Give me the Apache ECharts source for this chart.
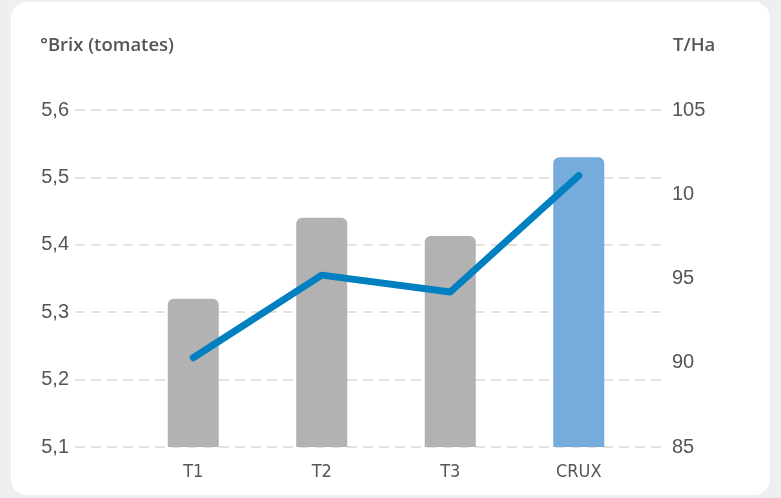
<!DOCTYPE html>
<html>
<head>
<meta charset="utf-8">
<script src="https://cdn.jsdelivr.net/npm/echarts@6/dist/echarts.min.js"></script>
<style>
  html, body { margin: 0; padding: 0; background: #eeeff1; }
  #card { position: absolute; left: 11px; top: 2px; width: 759px; height: 493px; background: #fff; border-radius: 16px; }
  #chart { position: absolute; left: 0; top: 0; width: 781px; height: 498px; }
</style>
</head>
<body>
<div id="card"></div>
<div id="chart"></div>
<script>
  // datos
  var categories = ['T1', 'T2', 'T3', 'CRUX'];
  var brix = [5.32, 5.44, 5.413, 5.53];
  var tonHa = [90.3, 95.2, 94.2, 101.1];
  var brixTicks = ['5,1', '5,2', '5,3', '5,4', '5,5', '5,6'];
  var tonTicks = ['85', '90', '95', '10', '105'];

  var textColor = '#555';
  var gridTop = 110, gridBottom = 51;
  var titleStyle = { fontSize: 18.5, fontWeight: 600, color: textColor, fontFamily: 'Open Sans, sans-serif' };

  var chart = echarts.init(document.getElementById('chart'));

  var option = {
    backgroundColor: 'transparent',
    textStyle: { fontFamily: 'Roboto, sans-serif' },
    title: [
      { text: '°Brix (tomates)', left: 35, top: 31, textStyle: titleStyle },
      { text: 'T/Ha', left: 668, top: 31, textStyle: titleStyle }
    ],
    grid: [
      { left: 75, right: 115, top: gridTop, bottom: gridBottom },
      { left: 129, right: 138, top: gridTop, bottom: gridBottom }
    ],
    xAxis: [
      { type: 'category', gridIndex: 0, show: false, data: categories },
      {
        type: 'category', gridIndex: 1, data: categories,
        axisLine: { show: false }, axisTick: { show: false },
        axisLabel: { color: textColor, fontSize: 18, margin: 16, fontFamily: 'Liberation Sans Narrow, DejaVu Sans Condensed, sans-serif' }
      }
    ],
    yAxis: [
      {
        type: 'value', gridIndex: 0, position: 'left', min: 5.1, max: 5.6, interval: 0.1,
        axisLine: { show: false }, axisTick: { show: false },
        axisLabel: {
          color: textColor, fontSize: 20, margin: 6, fontFamily: 'Liberation Sans, sans-serif',
          formatter: function (v) { return brixTicks[Math.round((v - 5.1) * 10)]; }
        },
        splitLine: { lineStyle: { color: '#e6e1dc', width: 2, type: [10, 6] } }
      },
      {
        type: 'value', gridIndex: 0, position: 'right', min: 85, max: 105, interval: 5,
        axisLine: { show: false }, axisTick: { show: false }, splitLine: { show: false },
        axisLabel: {
          color: textColor, fontSize: 20, margin: 6, fontFamily: 'Liberation Sans, sans-serif',
          formatter: function (v) { return tonTicks[Math.round((v - 85) / 5)]; }
        }
      },
      { type: 'value', gridIndex: 1, min: 5.1, max: 5.6, show: false },
      { type: 'value', gridIndex: 1, min: 85, max: 105, show: false }
    ],
    series: [
      {
        type: 'bar', xAxisIndex: 1, yAxisIndex: 2, barWidth: 51,
        data: brix.map(function (v, i) {
          return { value: v, itemStyle: { color: i === 3 ? '#76acdb' : '#b2b2b2' } };
        }),
        itemStyle: { borderRadius: [6, 6, 0, 0] },
        silent: true
      },
      {
        type: 'line', xAxisIndex: 1, yAxisIndex: 3, data: tonHa,
        symbol: 'none', silent: true,
        lineStyle: { color: '#0080c0', width: 7, cap: 'round', join: 'round' }
      }
    ],
    animation: false
  };

  chart.setOption(option);
</script>
</body>
</html>
